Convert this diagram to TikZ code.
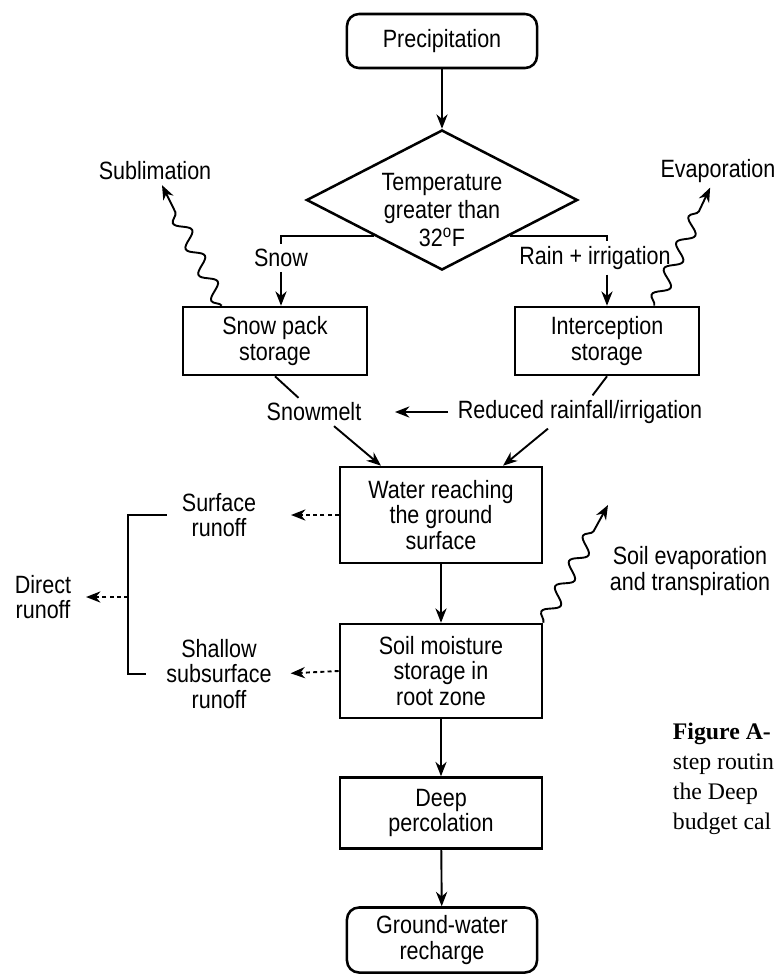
\documentclass[tikz,border=0pt]{standalone}
\usepackage{fontspec}
\setmainfont{Liberation Sans}[FakeStretch=0.86]
\newfontfamily\capfont{Liberation Serif}
\usepackage{tikz}
\usetikzlibrary{arrows.meta}
\usetikzlibrary{shapes.geometric}
\usetikzlibrary{decorations.pathmorphing}

\begin{document}
\begin{tikzpicture}[x=0.025cm,y=-0.025cm,>={Stealth[length=0.36cm,width=0.28cm]},line width=1.35pt,font=\fontsize{17.8pt}{18.2pt}\selectfont]
\tikzstyle{box}=[draw,shape=rectangle,line width=1.8pt,align=center,inner sep=0pt]
\tikzstyle{rbox}=[box,rounded corners=0.3cm]
\tikzstyle{dia}=[draw,shape=diamond,line width=1.8pt,inner sep=0pt,minimum width=6.775cm,minimum height=3.5cm]
\tikzstyle{lbl}=[align=center,inner sep=0.1cm]
\tikzstyle{wavy}=[->,decorate,decoration={snake,amplitude=0.18cm,segment length=0.72cm,post length=0.4cm}]
\tikzstyle{runoff}=[->,dash pattern=on 0.1cm off 0.08cm]
\useasboundingbox (0,0) rectangle (775,976);
%
\node[rbox,minimum width=4.75cm,minimum height=1.35cm](prec) at (442,41){Precipitation};
\node[dia](temp) at (442,200){};
\node[lbl,font=\fontsize{17.8pt}{19.6pt}\selectfont](tempt) at (442,210){Temperature\\greater than\\32\textsuperscript{o}F};
\node[box,minimum width=4.6cm,minimum height=1.7cm](snow) at (275,341){Snow pack\\storage};
\node[box,minimum width=4.6cm,minimum height=1.7cm](inter) at (607,341){Interception\\storage};
\node[lbl](snw) at (281,258){Snow};
\node[lbl](rain) at (595,258){Rain + irrigation};
\node[lbl](subl) at (155,171){Sublimation};
\node[lbl](evap) at (718,171){Evaporation};
\node[lbl](melt) at (314,412){Snowmelt};
\node[lbl](red) at (580,412){Reduced rainfall/irrigation};
\node[box,minimum width=5.05cm,minimum height=2.4cm](water) at (441,515){Water reaching\\the ground\\surface};
\node[lbl](surf) at (219,515){Surface\\runoff};
\node[lbl](shal) at (219,674){Shallow\\subsurface\\runoff};
\node[lbl](dir) at (43,597){Direct\\runoff};
\node[box,minimum width=5.05cm,minimum height=2.35cm](soil) at (441,671){Soil moisture\\storage in\\root zone};
\node[lbl](sevap) at (690,571){Soil evaporation\\and transpiration};
\node[box,minimum width=5.05cm,minimum height=1.775cm](deep) at (441,813){Deep\\percolation};
\node[rbox,minimum width=4.75cm,minimum height=1.625cm](gw) at (442,940){Ground-water\\recharge};
\coordinate (jn) at (128,597);
\coordinate (sevtip) at (608,505);
%
\draw[->] (prec) -- (temp);
\draw (temp.south west) -| (snw.north);
\draw[->] (snw.south) -- (snw.south |- snow.north);
\draw (temp.south east) -| (rain.north -| inter.north);
\draw[->] (rain.south -| inter.north) -- (inter.north);
%
\draw[wavy] ([xshift=1cm]snow.north west) -- (subl);
\draw[wavy] ([xshift=-1.15cm]inter.north east) -- (evap);
%
\draw (snow.south) -- (melt);
\draw (inter.south) -- (red);
\draw[->,shorten <=0.12cm,shorten >=0.72cm] (red.west) -- (melt.east);
\draw[->] ([xshift=0.5cm]melt.south) -- ([xshift=-1.5cm]water.north);
\draw[->] ([xshift=-0.8cm]red.south) -- ([xshift=1.55cm]water.north);
%
\draw[runoff,shorten >=0.75cm] (water.west) -- (surf.east);
\draw[runoff,shorten >=0.35cm] (soil.west) -- (shal.east);
\draw ([xshift=-0.25cm]surf.west) -| (jn) |- ([xshift=-0.375cm]shal.west);
\draw[runoff,shorten >=0.25cm] (jn) -- (dir.east);
%
\draw[->] (water) -- (soil);
\draw[wavy] (soil.north east) -- (sevtip);
\draw[->] (soil) -- (deep);
\draw[->] (deep) -- (gw);
%
\node[anchor=north west,align=left,inner sep=0pt,font=\capfont\fontsize{16.9pt}{21.3pt}\selectfont](cap) at (672,722){\textbf{Figure A-}\\step routin\\the Deep\\budget cal};
\end{tikzpicture}
\end{document}
